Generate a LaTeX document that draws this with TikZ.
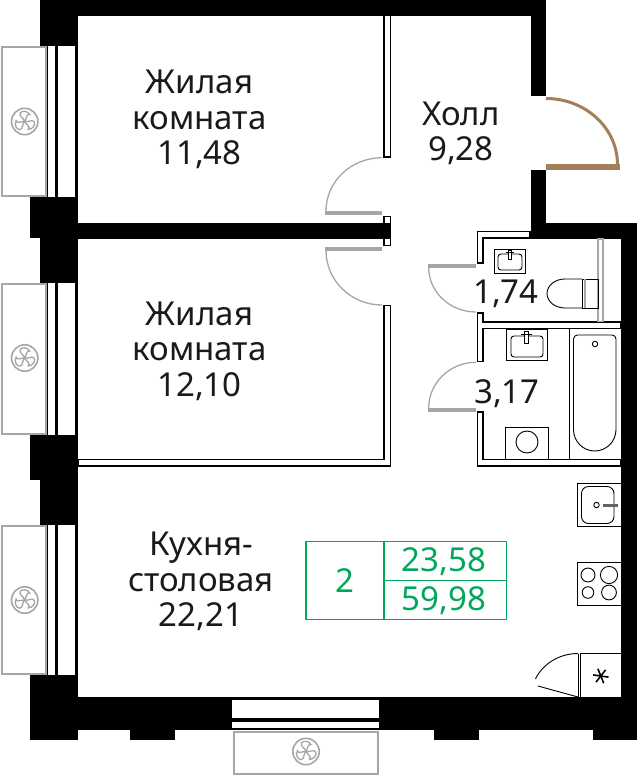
\documentclass[tikz,border=0pt]{standalone}
\usepackage{fontspec}
\setmainfont{Noto Sans}
\definecolor{lab}{HTML}{1A1A1A}
\definecolor{glass}{HTML}{A6A6A6}
\definecolor{oak}{HTML}{A37F5B}
\definecolor{flat}{HTML}{00A85A}
\tikzset{
	wall/.style={fill=black,draw=none},
	thinwall/.style={draw=black,fill=white,line width=1.3pt},
	unit/.style={draw=black,fill=white,line width=.9pt},
	fine/.style={draw=black,line width=.9pt},
	door/.style={draw=glass,line width=1.3pt},
	leaf/.style={fill=glass,draw=none},
	frame/.style={draw=glass,fill=white,line width=2pt},
	room/.style={text=lab,align=center,font=\fontsize{33}{35.5}\selectfont},
	area/.style={text=flat,font=\fontsize{33}{35}\selectfont},
	cell/.style={draw=flat,line width=1.6pt},
	fan/.pic={
		\draw[glass,line width=1.6pt] (0,0) circle (13.2);
		\foreach \a in {0,120,240}
			\draw[glass,line width=1.3pt,rotate=\a] (0,0) .. controls (-1,-4) and (-6,-5) .. (-4.5,-8.5) .. controls (-3,-11) and (3,-11) .. (5,-7) .. controls (1.5,-8) and (2,-3) .. (0,0);
	}
}
\begin{document}
\begin{tikzpicture}[x=1pt,y=-1pt]
	\useasboundingbox (0,0) rectangle (637,776);
	% outer walls
	\fill[wall] (40,0) rectangle (546,16);
	\fill[wall] (40,0) rectangle (78,46);
	\fill[wall] (531,0) rectangle (546,96);
	\fill[wall] (531,170) rectangle (546,239);
	\fill[wall] (531,223) rectangle (637,239);
	\fill[wall] (621,223) rectangle (637,740);
	\fill[wall] (30,197) rectangle (78,238);
	\fill[wall] (40,238) rectangle (78,283);
	\fill[wall] (30,435) rectangle (78,480);
	\fill[wall] (40,480) rectangle (78,525);
	\fill[wall] (30,675) rectangle (78,740);
	\fill[wall] (30,697) rectangle (232,730);
	\fill[wall] (130,730) rectangle (175,740);
	\fill[wall] (379,697) rectangle (637,730);
	\fill[wall] (434,730) rectangle (479,740);
	\fill[wall] (593,730) rectangle (637,740);
	% windows
	\foreach \t/\b in {46/197,283/435,525/675}{
		\fill[black] (46,\t) rectangle (48,\b);
		\fill[black] (55,\t) rectangle (58,\b);
		\fill[black] (75,\t) rectangle (78,\b);
		\draw[frame] (2,\t+1) rectangle (45.5,\b-1);
	}
	\fill[black] (232,697) rectangle (379,700);
	\fill[black] (232,718) rectangle (379,721.5);
	\fill[black] (232,728) rectangle (379,730);
	\draw[frame] (234,731.5) rectangle (378,774);
	\pic at (24.7,121.5) {fan};
	\pic at (24.7,358) {fan};
	\pic at (24.7,600) {fan};
	\pic at (306,751.5) {fan};
	% partitions
	\draw[thinwall] (384,15) rectangle (390.4,157);
	\draw[thinwall] (384,216.5) rectangle (390.4,245.5);
	\fill[wall] (78,223) rectangle (391,239);
	\draw[thinwall] (78,459.7) -- (384,459.7) -- (384,305.5) -- (390.4,305.5) -- (390.4,466) -- (78,466) -- cycle;
	\draw[thinwall] (477.5,231.5) -- (530,231.5) -- (530,238) -- (483,238) -- (483,263) -- (477.5,263) -- cycle;
	\draw[thinwall] (477.5,313) -- (483,313) -- (483,322) -- (621,322) -- (621,328.5) -- (483,328.5) -- (483,361.5) -- (477.5,361.5) -- cycle;
	\draw[thinwall] (477.5,412) -- (483,412) -- (483,459.7) -- (621,459.7) -- (621,466) -- (477.5,466) -- cycle;
	% doors
	\fill[leaf] (325,211) rectangle (382,215);
	\draw[door] (382,157.7) arc[start angle=270,end angle=180,x radius=56,y radius=53.3];
	\fill[leaf] (325,246.5) rectangle (382,250.5);
	\draw[door] (326,250.5) arc[start angle=180,end angle=90,x radius=56,y radius=54.5];
	\fill[leaf] (428,264) rectangle (476,267.5);
	\draw[door] (428.7,267.5) arc[start angle=180,end angle=90,x radius=47.3,y radius=44.5];
	\fill[leaf] (428,408) rectangle (476,411.5);
	\draw[door] (476,362.3) arc[start angle=270,end angle=180,x radius=47.3,y radius=45.7];
	\fill[oak] (546,164) rectangle (619.5,170);
	\draw[oak,line width=3pt] (546,98.5) arc[start angle=270,end angle=360,x radius=71.5,y radius=66];
	% bathroom fittings
	\draw[draw=glass,fill=white,line width=1.2pt] (598,239) rectangle (603,321.5);
	\draw[fine] (582,279) -- (565,279) arc[start angle=270,end angle=90,x radius=18,y radius=14.5] -- (582,308);
	\draw[fine] (582,279) rectangle (598,308);
	\draw[glass,line width=1.2pt] (585,279) -- (585,308);
	\draw[unit] (494,249.5) rectangle (525.5,273);
	\draw[fine,rounded corners=3pt] (498,254) rectangle (522,270);
	\draw[unit] (508.5,250) rectangle (511.5,259.5);
	\draw[fine] (506,252.5) -- (514,252.5);
	\draw[unit] (506.5,329) rectangle (547,360);
	\draw[fine,rounded corners=3pt] (511,336) rectangle (543,357);
	\draw[unit] (524.5,331) rectangle (528,343);
	\draw[fine] (521,334) -- (532,334);
	\draw[unit] (505,427) rectangle (548.5,459.5);
	\draw[fine] (527,442) circle (11);
	\draw[fine] (569,329) -- (569,459.5);
	\draw[fine] (573.5,429.5) [rounded corners=4pt] -- (573.5,335) -- (616,335) [sharp corners] -- (616,429.5) arc[start angle=0,end angle=180,x radius=21.25,y radius=21.5];
	\draw[fine] (595,344) circle (2.7);
	% kitchen fittings
	\draw[unit] (577.5,483) rectangle (621,526);
	\draw[fine,rounded corners=7pt] (581.5,486.5) rectangle (614,523.5);
	\draw[fine] (596.5,505) circle (2.7);
	\fill[glass!60!black] (602.5,503.7) rectangle (618,506.7);
	\draw[unit] (577.5,562.5) rectangle (621,605);
	\draw[fine] (588,575) circle (7);
	\draw[fine] (609,575) circle (8.6);
	\draw[fine] (588,592.5) circle (5.8);
	\draw[fine] (609,592.5) circle (7.4);
	\draw[unit] (580.5,653.5) rectangle (621,697);
	\draw[fine] (578,653.5) -- (578,697);
	\draw[fine] (578,653.5) arc[start angle=270,end angle=205,x radius=47,y radius=44];
	\draw[fine] (538,686) -- (578,697);
	\foreach \a in {-8,52,112}
		\draw[black,line width=1.6pt,rotate around={\a:(600.8,676)}] (593,676) -- (608.6,676);
	% labels
	\node[room] (living1) at (199.5,119.5) {Жилая\\комната\\11,48};
	\node[room] (living2) at (199.5,351) {Жилая\\комната\\12,10};
	\node[room] (kitchen) at (201,581.5) {Кухня-\\столовая\\22,21};
	\node[room] (hall) at (461,133.5) {Холл\\9,28};
	\node[room] (wc) at (506,294) {1,74};
	\node[room] (bath) at (507,394) {3,17};
	% summary table
	\draw[cell] (306,541.5) rectangle (506.5,619.5);
	\draw[cell] (384,541.5) -- (384,619.5);
	\draw[cell] (384,580.5) -- (506.5,580.5);
	\node[area] (rooms) at (345,581) {2};
	\node[area] (living) at (444,562) {23,58};
	\node[area] (total) at (444,601) {59,98};
\end{tikzpicture}
\end{document}
